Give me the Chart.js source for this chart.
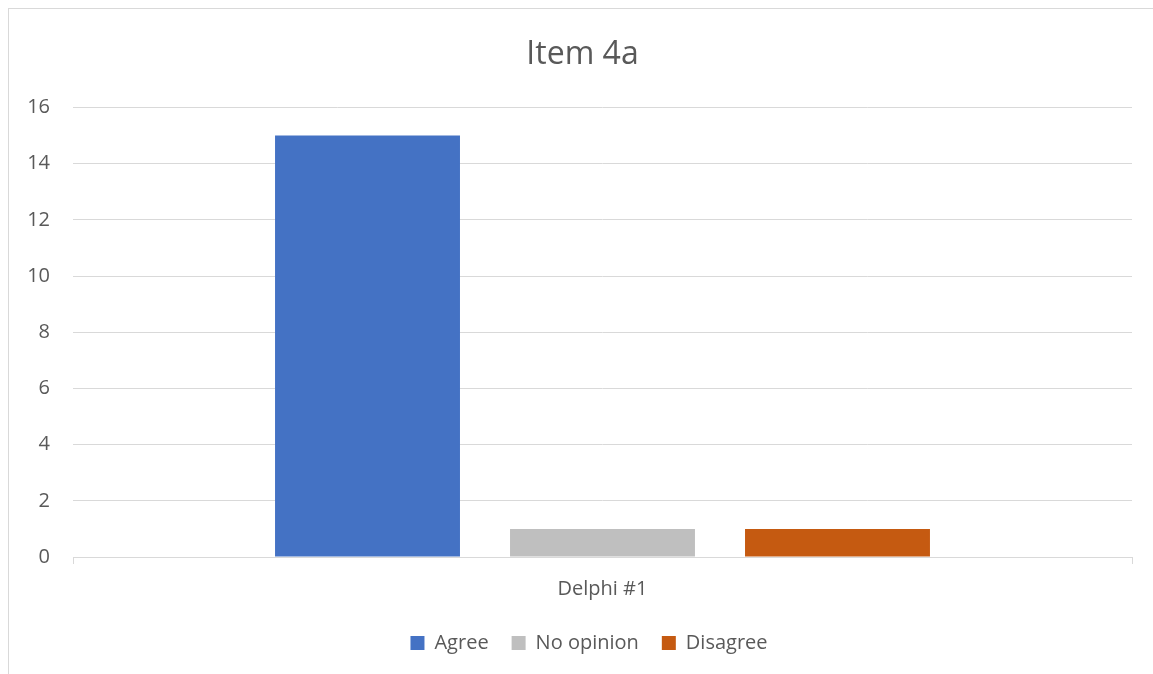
<!DOCTYPE html>
<html>
<head>
<meta charset="utf-8">
<script src="https://cdn.jsdelivr.net/npm/chart.js@4"></script>
<style>
  html, body { margin: 0; padding: 0; background: #fff; overflow: hidden; }
  #frame { position: absolute; left: 8px; top: 8px; width: 1170px; height: 690px; border: 1px solid #d9d9d9; }
  #wrap { position: absolute; left: 0; top: 0; width: 1153px; height: 674px; }
</style>
</head>
<body>
<div id="frame"></div>
<div id="wrap"><canvas id="grafico"></canvas></div>
<script>
const categorias = ['Delphi #1'];
const agree = [15];
const noOpinion = [1];
const disagree = [1];
const yTicks = [0, 2, 4, 6, 8, 10, 12, 14, 16];

const texto = '#595959';
const grade = '#d9d9d9';
const fonte = "'Open Sans', sans-serif";

function serie(label, data, cor) {
    return { label: label, data: data, backgroundColor: cor, categoryPercentage: 0.6657, barPercentage: 0.787 };
}

// titulo e legenda centralizados no quadro, nao no canvas inteiro
const centralizar = {
    id: 'centralizar',
    afterLayout(chart) {
        if (chart.titleBlock) chart.titleBlock.left += 33;
        if (chart.legend) chart.legend.left += 46;
    }
};

const ctx = document.getElementById('grafico').getContext('2d');
window.chart = new Chart(ctx, {
    type: 'bar',
    data: {
        labels: categorias,
        datasets: [
            serie('Agree', agree, '#4472C4'),
            serie('No opinion', noOpinion, '#BFBFBF'),
            serie('Disagree', disagree, '#C55A11')
        ]
    },
    plugins: [centralizar],
    options: {
        responsive: true,
        maintainAspectRatio: false,
        animation: false,
        devicePixelRatio: 1,
        layout: { padding: { left: 0, right: 21, top: 0, bottom: 11 } },
        plugins: {
            title: {
                display: true, text: 'Item 4a', color: texto,
                font: { family: fonte, size: 32, weight: 'normal' },
                padding: { top: 36, bottom: 33 }
            },
            legend: {
                position: 'bottom',
                labels: { color: texto, font: { family: fonte, size: 20 }, boxWidth: 14, boxHeight: 14, padding: 23 }
            },
            tooltip: { enabled: false }
        },
        scales: {
            x: {
                grid: { display: true, drawOnChartArea: false, drawTicks: true, tickLength: 7, color: grade, offset: true },
                border: { display: true, color: grade },
                ticks: { color: texto, font: { family: fonte, size: 20 }, padding: 13 },
                afterFit: function(s) { s.height = 53; }
            },
            y: {
                min: yTicks[0], max: yTicks[yTicks.length - 1],
                afterBuildTicks: function(s) { s.ticks = yTicks.map(v => ({ value: v })); },
                grid: { color: grade, drawTicks: false },
                border: { display: false },
                ticks: { color: texto, font: { family: fonte, size: 20 }, padding: 23 },
                afterFit: function(s) { s.width = 73; }
            }
        }
    }
});
</script>
</body>
</html>
